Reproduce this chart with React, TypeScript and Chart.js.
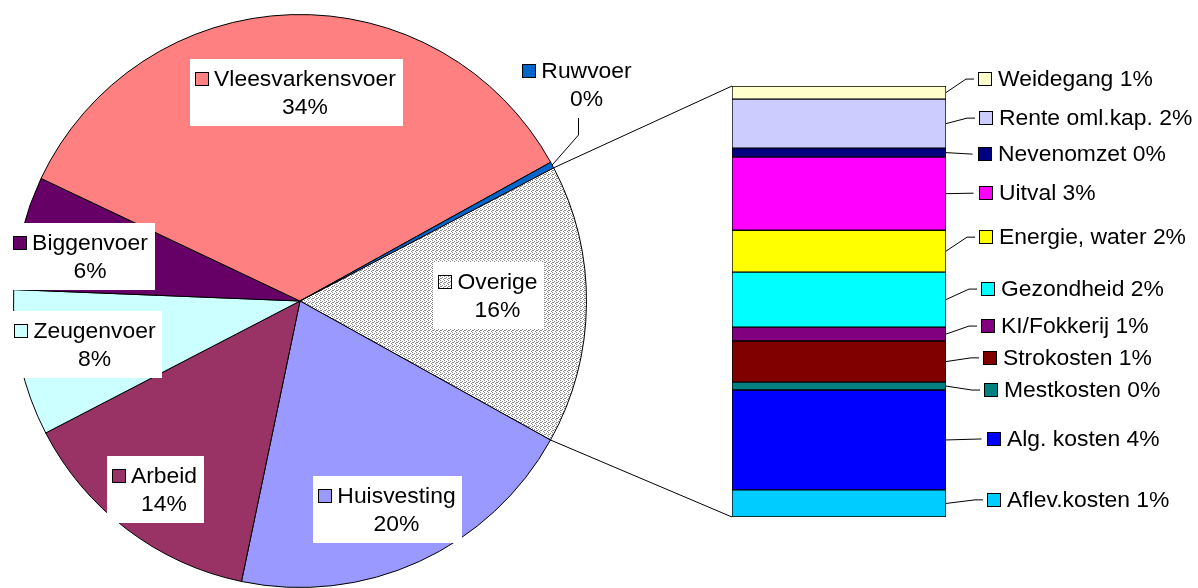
import React, { useEffect, useRef } from "react";
import { Chart, registerables } from "chart.js";

Chart.register(...registerables);

// ---------- data ----------
// Pie slices, clockwise starting at the "Overige" slice
const PIE_NAMES = ["Overige", "Huisvesting", "Arbeid", "Zeugenvoer", "Biggenvoer", "Vleesvarkensvoer", "Ruwvoer"];
const PIE_VALUES = [15.75, 20.2, 14.1, 8.25, 6.4, 34.9, 0.35];
const PIE_PCT_LABELS = ["16%", "20%", "14%", "8%", "6%", "34%", "0%"];
const PIE_COLORS = ["pattern", "#9999FF", "#993366", "#CCFFFF", "#660066", "#FF8080", "#0066CC"];

// Breakdown of "Overige", listed top to bottom of the stacked bar
const BAR_NAMES = ["Weidegang", "Rente oml.kap.", "Nevenomzet", "Uitval", "Energie, water", "Gezondheid", "KI/Fokkerij", "Strokosten", "Mestkosten", "Alg. kosten", "Aflev.kosten"];
const BAR_VALUES = [0.48, 1.79, 0.33, 2.67, 1.53, 2.01, 0.51, 1.5, 0.29, 3.65, 0.99];
const BAR_PCT_LABELS = ["1%", "2%", "0%", "3%", "2%", "2%", "1%", "1%", "0%", "4%", "1%"];
const BAR_COLORS = ["#FFFFCC", "#CCCCFF", "#000080", "#FF00FF", "#FFFF00", "#00FFFF", "#800080", "#800000", "#008080", "#0000FF", "#00CCFF"];

// ---------- layout (not data) ----------
const W = 1198;
const H = 588;
const FONT = '22px "Liberation Sans", Arial, sans-serif';
const SX = 1.04; // slight horizontal stretch of the text, as in the reference
const PIE_ROTATION = 62.3; // degrees, start of first slice measured from 12 o'clock
const PIE_PADDING = { left: 13, top: 14, right: W - 587, bottom: 0 };
// centre of each pie label block
const PIE_LABEL_CENTER: [number, number][] = [
  [489, 295.5],
  [388, 509.5],
  [155.5, 489.5],
  [86, 344],
  [81.5, 256],
  [296.5, 92.5],
  [578, 84],
];
const PIE_LABEL_BOX = [true, true, true, true, true, true, false];
const BAR_PADDING = { left: 732, top: 86, right: W - 946, bottom: H - 517 };
// label offset relative to the bar segment: dy from segment middle, dx from bar right edge to legend square
const BAR_LABEL_DY = [-13.5, -5.5, 1.5, -0.5, -14, -10.5, -8, -3.7, 4, -1, -3.6];
const BAR_LABEL_DX = [32, 33, 32, 33, 33, 35, 35, 37, 38, 41, 41];

function makePattern(): CanvasPattern | string {
  const pc = document.createElement("canvas");
  pc.width = 4;
  pc.height = 4;
  const g = pc.getContext("2d");
  if (!g) return "#DDDDDD";
  g.fillStyle = "#ffffff";
  g.fillRect(0, 0, 4, 4);
  g.fillStyle = "#8a8a8a";
  [[0, 0], [2, 1], [1, 2], [3, 3], [0, 2]].forEach(([x, y]) => g.fillRect(x, y, 1, 1));
  const p = g.createPattern(pc, "repeat");
  return p || "#DDDDDD";
}

function drawSquare(ctx: CanvasRenderingContext2D, x: number, cy: number, fill: any) {
  const sx = Math.round(x);
  const sy = Math.round(cy - 7);
  ctx.fillStyle = fill;
  ctx.fillRect(sx, sy, 14, 14);
  ctx.strokeStyle = "#000";
  ctx.lineWidth = 1;
  ctx.strokeRect(sx + 0.5, sy + 0.5, 13, 13);
}

function textW(ctx: CanvasRenderingContext2D, s: string) {
  return ctx.measureText(s).width * SX;
}

// draw text left-aligned at x (or centred on x), stretched horizontally by SX
function drawText(ctx: CanvasRenderingContext2D, s: string, x: number, y: number, center = false) {
  const w = textW(ctx, s);
  const left = center ? x - w / 2 : x;
  ctx.save();
  ctx.translate(left, y);
  ctx.scale(SX, 1);
  ctx.fillStyle = "#000";
  ctx.textAlign = "left";
  ctx.textBaseline = "middle";
  ctx.fillText(s, 0, 0);
  ctx.restore();
}

export default function App() {
  const pieRef = useRef<HTMLCanvasElement>(null);
  const barRef = useRef<HTMLCanvasElement>(null);

  useEffect(() => {
    document.body.style.margin = "0";
    const pattern = makePattern();
    const pieColors = PIE_COLORS.map((c) => (c === "pattern" ? pattern : c));

    const pieLabels = {
      id: "pieLabels",
      afterDraw(chart: any) {
        const ctx: CanvasRenderingContext2D = chart.ctx;
        const meta = chart.getDatasetMeta(0);
        ctx.save();
        ctx.font = FONT;
        PIE_NAMES.forEach((name, i) => {
          const [cx, cy] = PIE_LABEL_CENTER[i];
          const tw = textW(ctx, name);
          const blockW = 14 + 5 + tw;
          const sqX = cx - blockW / 2 - 1;
          const textX = sqX + 19;
          const l1 = cy - 13.5;
          const l2 = cy + 14.5;
          if (PIE_LABEL_BOX[i]) {
            ctx.fillStyle = "#ffffff";
            ctx.fillRect(Math.round(sqX - 5), Math.round(cy - 33.5), Math.round(blockW + 12), 67);
          } else {
            // leader line from slice to label
            const arc = meta.data[i];
            const mid = (arc.startAngle + arc.endAngle) / 2;
            const px = arc.x + arc.outerRadius * Math.cos(mid);
            const py = arc.y + arc.outerRadius * Math.sin(mid);
            const lx = Math.round(textX + tw / 2 - 9) + 0.5;
            ctx.strokeStyle = "#000";
            ctx.lineWidth = 1;
            ctx.beginPath();
            ctx.moveTo(lx, cy + 34);
            ctx.lineTo(lx, cy + 51);
            ctx.lineTo(px, py);
            ctx.stroke();
          }
          drawSquare(ctx, sqX, l1, pieColors[i]);
          drawText(ctx, name, textX, l1 + 1);
          drawText(ctx, PIE_PCT_LABELS[i], textX + tw / 2, l2 + 1, true);
        });
        ctx.restore();
      },
    };

    const pie = new Chart(pieRef.current as HTMLCanvasElement, {
      type: "pie",
      data: {
        labels: PIE_NAMES,
        datasets: [
          {
            data: PIE_VALUES,
            backgroundColor: pieColors as any,
            borderColor: "#000000",
            borderWidth: 1,
          },
        ],
      },
      options: {
        responsive: false,
        animation: false,
        rotation: PIE_ROTATION,
        layout: { padding: PIE_PADDING },
        plugins: { legend: { display: false }, tooltip: { enabled: false } },
      },
      plugins: [pieLabels],
    });

    // bar stacks from bottom: reverse the top-to-bottom lists
    const order = BAR_NAMES.map((_, i) => BAR_NAMES.length - 1 - i);
    const total = BAR_VALUES.reduce((a, b) => a + b, 0);

    const barLabels = {
      id: "barLabels",
      afterDraw(chart: any) {
        const ctx: CanvasRenderingContext2D = chart.ctx;
        ctx.save();
        ctx.font = FONT;
        ctx.strokeStyle = "#000";
        ctx.lineWidth = 1;
        let barLeft = 0;
        let barTop = 0;
        let barBottom = 0;
        order.forEach((srcIdx, dsIdx) => {
          const el: any = chart.getDatasetMeta(dsIdx).data[0];
          const right = el.x + el.width / 2;
          const left = el.x - el.width / 2;
          const mid = (el.y + el.base) / 2;
          if (dsIdx === 0) barBottom = el.base;
          if (dsIdx === order.length - 1) barTop = el.y;
          barLeft = left;
          const dy = BAR_LABEL_DY[srcIdx];
          const sqX = right + BAR_LABEL_DX[srcIdx];
          const ly = mid + dy;
          ctx.strokeStyle = "#000";
          ctx.beginPath();
          ctx.moveTo(right, mid);
          if (Math.abs(dy) < 3) {
            ctx.lineTo(sqX - 5.5, ly);
          } else {
            ctx.lineTo(sqX - 12, ly);
            ctx.lineTo(sqX - 4, ly);
          }
          ctx.stroke();
          drawSquare(ctx, sqX, ly, BAR_COLORS[srcIdx]);
          drawText(ctx, BAR_NAMES[srcIdx] + " " + BAR_PCT_LABELS[srcIdx], sqX + 20, ly + 1);
        });
        // connector lines from the "Overige" slice to the bar
        const arc: any = pie.getDatasetMeta(0).data[0];
        const r = arc.outerRadius;
        const sx = arc.x + r * Math.cos(arc.startAngle);
        const sy = arc.y + r * Math.sin(arc.startAngle);
        const ex = arc.x + r * Math.cos(arc.endAngle);
        const ey = arc.y + r * Math.sin(arc.endAngle);
        ctx.strokeStyle = "#000";
        ctx.beginPath();
        ctx.moveTo(sx, sy);
        ctx.lineTo(barLeft, barTop);
        ctx.moveTo(ex, ey);
        ctx.lineTo(barLeft, barBottom);
        ctx.stroke();
        ctx.restore();
      },
    };

    const bar = new Chart(barRef.current as HTMLCanvasElement, {
      type: "bar",
      data: {
        labels: ["Overige"],
        datasets: order.map((i) => ({
          label: BAR_NAMES[i],
          data: [BAR_VALUES[i]],
          backgroundColor: BAR_COLORS[i],
          borderColor: "#000000",
          borderWidth: 1,
          borderSkipped: false,
          barPercentage: 1,
          categoryPercentage: 1,
          stack: "s",
        })),
      },
      options: {
        responsive: false,
        animation: false,
        layout: { padding: BAR_PADDING },
        scales: {
          x: { display: false, stacked: true },
          y: { display: false, stacked: true, min: 0, max: total },
        },
        plugins: { legend: { display: false }, tooltip: { enabled: false } },
      },
      plugins: [barLabels],
    });

    return () => {
      bar.destroy();
      pie.destroy();
    };
  }, []);

  return (
    <div style={{ position: "absolute", left: 0, top: 0, width: W, height: H, background: "#ffffff", overflow: "hidden" }}>
      <canvas ref={pieRef} width={W} height={H} style={{ position: "absolute", left: 0, top: 0 }} />
      <canvas ref={barRef} width={W} height={H} style={{ position: "absolute", left: 0, top: 0 }} />
    </div>
  );
}
